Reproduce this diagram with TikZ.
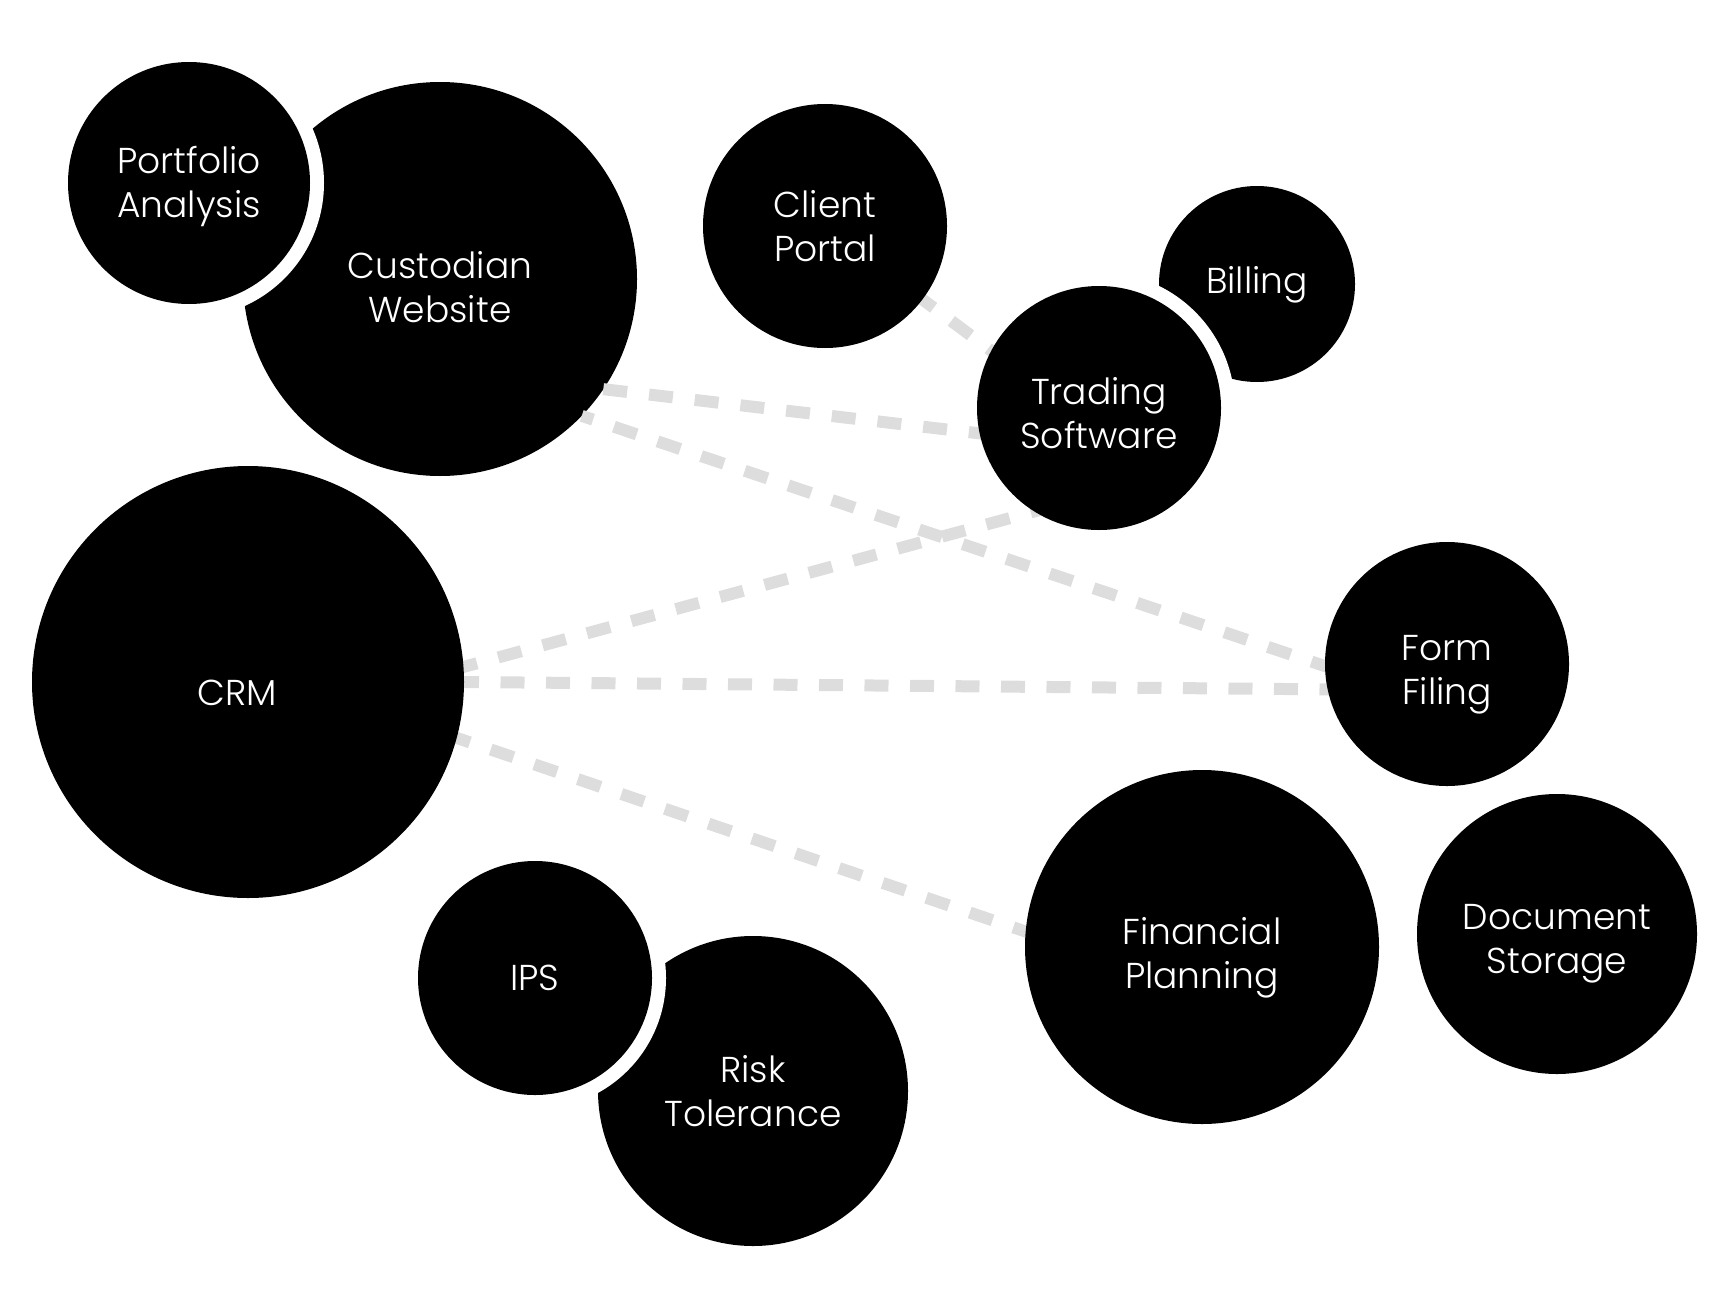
\documentclass[tikz,border=0pt]{standalone}
\usepackage{fontspec}
\setmainfont{Poppins}[UprightFont=* Light]
\usepackage{tikz}
\usetikzlibrary{positioning,calc}
\definecolor{BubbleBlack}{HTML}{000000}
\definecolor{LinkGray}   {HTML}{DDDDDD}
\pgfdeclarelayer{rear}
\pgfdeclarelayer{links}
\pgfsetlayers{rear,links,main}
\tikzset{
  bubble/.style={circle,fill=BubbleBlack,inner sep=0pt,outer sep=0pt,
                 minimum size=#1pt},
  halo/.style={circle,fill=white,inner sep=0pt,outer sep=0pt,
               minimum size=#1pt},
  caption/.style={text=white,align=center,inner sep=0pt,
                  font=\fontsize{36}{44}\selectfont},
  link/.style={draw=LinkGray,line width=12pt,dash pattern=on 24pt off 22pt},
}
\begin{document}
\begin{tikzpicture}[x=1pt,y=-1pt]
  \useasboundingbox (0,0) rectangle (1720,1303);

  % front bubbles
  \node[bubble=242] (portfolio) at (189,183)  {};
  \node[bubble=244] (client)    at (825,226)  {};
  \node[bubble=244] (trading)   at (1099,408) {};
  \node[bubble=432] (crm)       at (248,682)  {};
  \node[bubble=244] (form)      at (1447,664) {};
  \node[bubble=354] (financial) at (1202,947) {};
  \node[bubble=280] (document)  at (1557,934) {};
  \node[bubble=234] (ips)       at (535,978)  {};

  \node[caption] (portfoliotext) at ([yshift=-3pt]portfolio.center)  {Portfolio\\Analysis};
  \node[caption] (clienttext)    at (client.center)                  {Client\\Portal};
  \node[caption] (tradingtext)   at ([yshift=-5pt]trading.center)    {Trading\\Software};
  \node[caption] (crmtext)       at ([shift={(-11pt,-11pt)}]crm.center) {CRM};
  \node[caption] (formtext)      at ([yshift=-11pt]form.center)      {Form\\Filing};
  \node[caption] (financialtext) at ([yshift=-11pt]financial.center) {Financial\\Planning};
  \node[caption] (documenttext)  at ([yshift=-10pt]document.center)  {Document\\Storage};
  \node[caption] (ipstext)       at (ips.center)                     {IPS};

  % bubbles behind, with white rings of the front ones
  \begin{pgfonlayer}{rear}
    \node[bubble=394] (custodian) at (440,279)  {};
    \node[bubble=196] (billing)   at (1257,284) {};
    \node[bubble=310] (risk)      at (753,1091) {};
    \node[caption] (custodiantext) at ([yshift=-8pt]custodian.center) {Custodian\\Website};
    \node[caption] (billingtext)   at ([yshift=-1pt]billing.center)   {Billing};
    \node[caption] (risktext)      at (risk.center)                   {Risk\\Tolerance};
    \node[halo=270] (portfoliohalo) at (portfolio.center) {};
    \node[halo=272] (tradinghalo)   at (trading.center)   {};
    \node[halo=262] (ipshalo)       at (ips.center)       {};
  \end{pgfonlayer}

  % links
  \begin{pgfonlayer}{links}
    \draw[link,shorten <=-10pt,shorten >=-30pt] (client.-37) -- (trading.152);
    \draw[link,shorten >=-30pt] (custodian.-34) -- (trading.192);
    \draw[link,dash phase=12pt,shorten >=-30pt] (custodian.-44) -- (form.181);
    \draw[link,shorten <=-10pt,shorten >=-30pt] (crm.4)   -- (trading.238);
    \draw[link,dash pattern=on 24pt off 21.5pt,
          shorten <=-9pt,shorten >=-30pt] (crm.0) -- (form.192);
    \draw[link,shorten <=-10pt,shorten >=-30pt] (crm.-15) -- (financial.175);
  \end{pgfonlayer}

\end{tikzpicture}
\end{document}
